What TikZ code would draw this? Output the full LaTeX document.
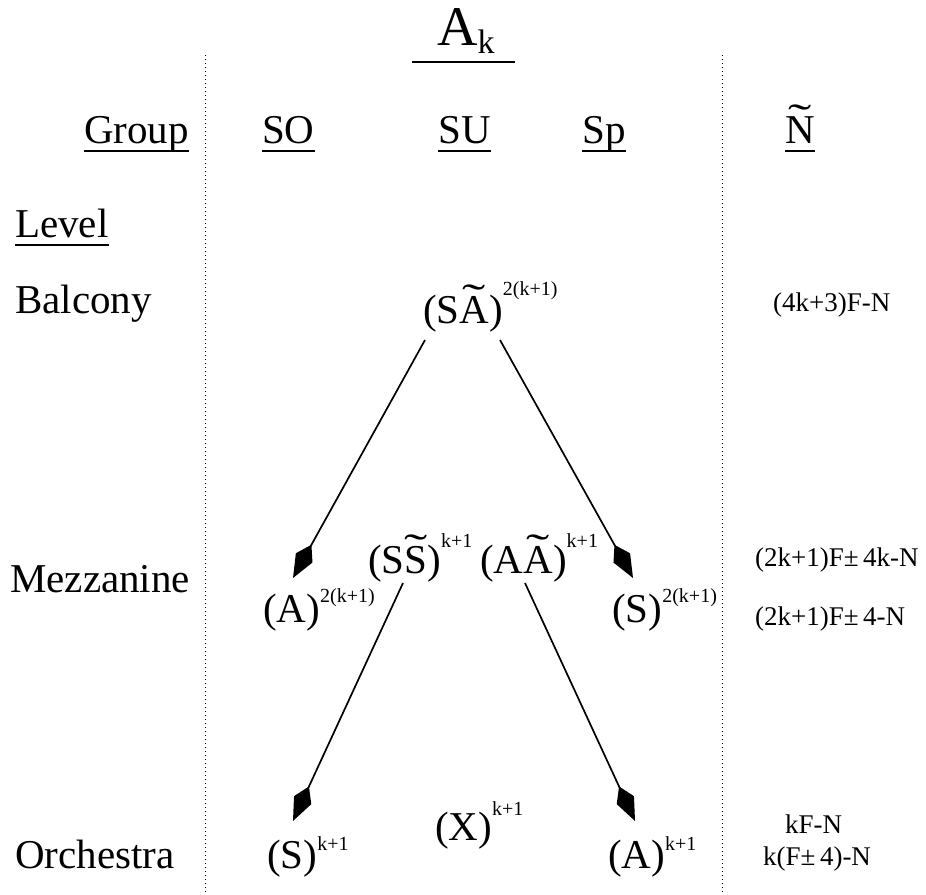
\documentclass[tikz,border=0pt]{standalone}
\usepackage{fontspec}
\setmainfont{Liberation Serif}
\usepackage{graphicx}
\usetikzlibrary{arrows.meta}
\newcommand\tld[1]{\ooalign{#1\cr\hidewidth\raisebox{0.25em}{\scalebox{1.7}[1.0]{\char"02DC}}\hidewidth\cr}}
\newcommand\sps[2]{\raisebox{#1}{\fontsize{20}{20}\selectfont #2}}
\begin{document}
\begin{tikzpicture}[x=1pt,y=-1pt,
  lbl/.style={anchor=base west, inner sep=0pt, font=\fontsize{41}{45}\selectfont},
  rt/.style={anchor=base west, inner sep=0pt, font=\fontsize{27}{30}\selectfont},
  arr/.style={line width=1.7pt, -{Kite[length=38pt,width=19pt,inset=15pt]}},
  sep/.style={line width=1pt, dash pattern=on 1pt off 3pt},
  ul/.style={line width=1.5pt}]
\useasboundingbox (0,0) rectangle (926,894);
% separators
\coordinate (d1t) at (205,55); \coordinate (d1b) at (205,894);
\coordinate (d2t) at (722,55); \coordinate (d2b) at (722,894);
\draw[sep] (d1t) -- (d1b);
\draw[sep] (d2t) -- (d2b);
% title
\node[anchor=base west, inner sep=0pt, font=\fontsize{56}{56}\selectfont] (ak) at (437,45) {A\raisebox{-8pt}{\fontsize{34}{34}\selectfont k}};
\coordinate (akl) at (412,62); \coordinate (akr) at (515,62);
\draw[line width=2.8pt] (akl) -- (akr);
% headings
\node[lbl] (grp) at (84,143) {Group};
\node[lbl] (so) at (262,143) {SO};
\node[lbl] (su) at (438,143) {SU};
\node[lbl] (sp) at (582,143) {Sp};
\node[lbl] (nt) at (785,143) {\tld{N}};
\foreach \n in {grp,so,su,sp,nt}{
  \draw[ul] ([yshift=-8pt]\n.base west) -- ([yshift=-8pt]\n.base east);
}
\node[lbl] (lvl) at (15,237) {Level};
\draw[ul] ([yshift=-8pt]lvl.base west) -- ([yshift=-8pt]lvl.base east);
% levels
\node[lbl] (bal) at (15,313) {Balcony};
\node[lbl] (mez) at (10,592) {Mezzanine};
\node[lbl] (orc) at (15,868) {Orchestra};
% terms
\node[lbl] (bt) at (423,323) {(S\tld{A})\sps{28pt}{2(k+1)}};
\node[lbl] (mA) at (263,622) {(A)\sps{20pt}{2(k+1)}};
\node[lbl] (mSS) at (368,573) {(S\tld{S})\sps{26pt}{k+1}};
\node[lbl] (mAA) at (480,573) {(A\tld{A})\sps{26pt}{k+1}};
\node[lbl] (mS) at (612,622) {(S)\sps{20pt}{2(k+1)}};
\node[lbl] (oS) at (267,868) {(S)\sps{18pt}{k+1}};
\node[lbl] (oX) at (435,840) {(X)\sps{25pt}{k+1}};
\node[lbl] (oA) at (608,868) {(A)\sps{18pt}{k+1}};
% right column
\node[rt] (r1) at (773,311) {(4k+3)F-N};
\node[rt] (r2) at (755,566) {(2k+1)F±\,4k-N};
\node[rt] (r3) at (755,625) {(2k+1)F±\,4-N};
\node[rt] (r4) at (785,833) {kF-N};
\node[rt] (r5) at (763,865) {k(F±\,4)-N};
% arrows
\coordinate (a1s) at (425,340); \coordinate (a1e) at (293,578);
\coordinate (a2s) at (500,340); \coordinate (a2e) at (633,578);
\coordinate (a3s) at (403,583); \coordinate (a3e) at (293,821);
\coordinate (a4s) at (525,583); \coordinate (a4e) at (635,821);
\draw[arr] (a1s) -- (a1e);
\draw[arr] (a2s) -- (a2e);
\draw[arr] (a3s) -- (a3e);
\draw[arr] (a4s) -- (a4e);
\end{tikzpicture}
\end{document}
